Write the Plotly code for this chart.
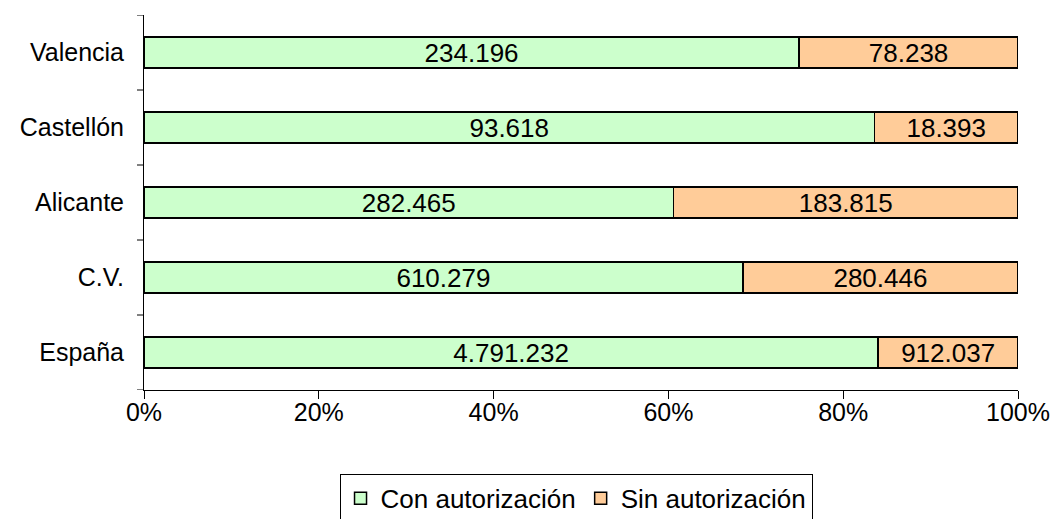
import plotly.graph_objects as go

categories = ["España", "C.V.", "Alicante", "Castellón", "Valencia"]
con_aut = [4791232, 610279, 282465, 93618, 234196]
sin_aut = [912037, 280446, 183815, 18393, 78238]
series_names = ["Con autorización", "Sin autorización"]
tick_vals = [0, 20, 40, 60, 80, 100]
tick_text = ["0%", "20%", "40%", "60%", "80%", "100%"]

FONT = "Liberation Sans, Arial"

def fmt(v):
    return f"{v:,}".replace(",", ".")

fig = go.Figure()
for name, vals, color in [(series_names[0], con_aut, "#CCFFCC"), (series_names[1], sin_aut, "#FFCC99")]:
    fig.add_trace(go.Bar(
        y=categories, x=vals, name=name, orientation="h",
        marker=dict(color=color, line=dict(color="black", width=1.5)),
        text=[fmt(v) for v in vals], textposition="inside", insidetextanchor="middle",
        textfont=dict(family=FONT, size=26, color="black"),
        constraintext="none", hoverinfo="skip",
    ))

fig.update_layout(
    barmode="stack", barnorm="percent", bargap=0.585,
    width=1055, height=519,
    margin=dict(l=144, r=37, t=15, b=129, autoexpand=False),
    paper_bgcolor="white", plot_bgcolor="white",
    font=dict(family=FONT, size=25, color="black"),
    uniformtext=dict(mode=False),
    xaxis=dict(range=[0, 100], tickvals=tick_vals, ticktext=tick_text,
               showline=True, linecolor="black", linewidth=1,
               ticks="outside", ticklen=8, tickcolor="black", showgrid=False,
               zeroline=False, tickfont=dict(size=25), automargin=False,
               ticklabelstandoff=-8),
    yaxis=dict(showline=True, linecolor="black", linewidth=1,
               ticks="", showgrid=False, tickfont=dict(size=25),
               ticklabelstandoff=14, automargin=False, range=[-0.5, 4.5]),
    legend=dict(orientation="h", xref="container", yref="container",
                x=0.546, xanchor="center", y=0.087, yanchor="top",
                bordercolor="black", borderwidth=1, font=dict(size=26),
                traceorder="normal", itemwidth=30),
)
# category boundary ticks on y axis (between categories)
for b in [-0.5, 0.5, 1.5, 2.5, 3.5, 4.5]:
    fig.add_shape(type="line", xref="paper", yref="y", x0=-0.008, x1=0, y0=b, y1=b,
                  line=dict(color="black", width=1))

fig.write_html("out.html", config={"displayModeBar": False},
               post_script="document.body.style.margin='0px';document.body.style.overflow='hidden';")
